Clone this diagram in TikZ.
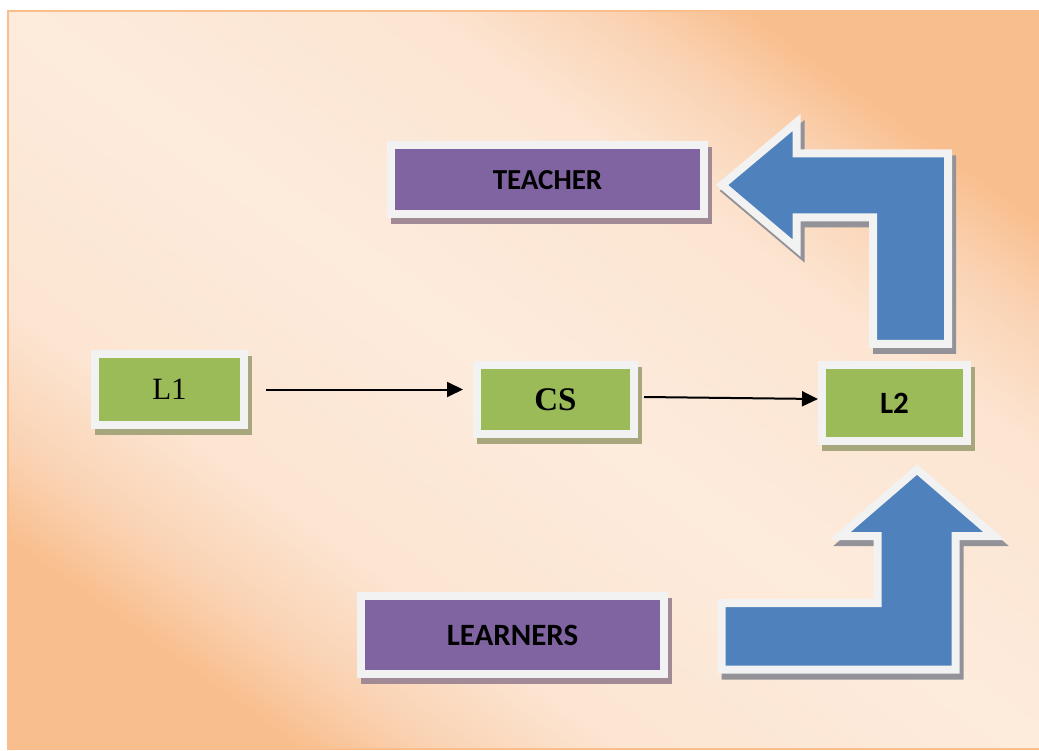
\documentclass[tikz,border=0pt]{standalone}
\usepackage{fontspec}
\setmainfont{Liberation Serif}
\newfontfamily\calibri{Carlito}
\usetikzlibrary{arrows.meta,shadows}
\definecolor{peachpale}{HTML}{FDEBDC}
\definecolor{peachlight}{HTML}{FCE5D2}
\definecolor{peachmid}{HTML}{FAD2B2}
\definecolor{peachdeep}{HTML}{F9BE8D}
\definecolor{framecol}{HTML}{FABD8C}
\definecolor{rim}{HTML}{F2F2F2}
\definecolor{ogreen}{HTML}{9BBB59}
\definecolor{opurple}{HTML}{8064A2}
\definecolor{oblue}{HTML}{4F81BD}
\definecolor{gshadow}{HTML}{A8A67D}
\definecolor{pshadow}{HTML}{A18A95}
\definecolor{bshadow}{HTML}{929298}
\pgfdeclareverticalshading{peach}{100bp}{color(0bp)=(peachdeep); color(25bp)=(peachdeep); color(29.5bp)=(peachmid); color(36bp)=(peachlight); color(50bp)=(peachpale); color(64bp)=(peachlight); color(70.5bp)=(peachmid); color(75bp)=(peachdeep); color(100bp)=(peachdeep)}
\begin{document}
\begin{tikzpicture}[x=1pt,y=-1pt,line cap=butt,
	greenbox/.style={draw=rim,line width=8pt,fill=ogreen,inner sep=0pt,
		drop shadow={shadow xshift=4pt,shadow yshift=-6pt,opacity=1,fill=gshadow,draw=gshadow,line width=8pt}},
	purplebox/.style={draw=rim,line width=8pt,fill=opurple,inner sep=0pt,
		font=\calibri\bfseries\fontsize{29}{31}\selectfont,
		drop shadow={shadow xshift=4pt,shadow yshift=-6pt,opacity=1,fill=pshadow,draw=pshadow,line width=8pt}},
	bentarrow/.style={draw=rim,line width=8pt,line join=miter,fill=oblue,
		drop shadow={shadow xshift=4pt,shadow yshift=-6pt,opacity=1,fill=bshadow,draw=bshadow,line width=8pt,line join=miter}},
	link/.style={line width=2pt,-{Triangle[length=16pt,width=15pt]}}]
	\useasboundingbox (0,0) rectangle (1039,751);
	\shade[shading=peach,shading angle=-35.6] (8,11) rectangle (1040,749);
	\draw[framecol,line width=2pt] (8,11) rectangle (1040,749);
	
	\path[bentarrow] (722,185)--(796.5,122.5)--(796.5,153.5)--(948,153.5)--(948,344)--(873,344)--(873,217.5)--(796.5,217.5)--(796.5,248)--cycle;
	\path[bentarrow] (917,469.5)--(994,536)--(955.5,536)--(955.5,669.5)--(721.5,669.5)--(721.5,603)--(877.5,603)--(877.5,536)--(840,536)--cycle;
	
	\node[purplebox,minimum width=313pt,minimum height=69.5pt] (teacher) at (547.5,179.75) {TEACHER};
	\node[purplebox,minimum width=303pt,minimum height=78pt,font=\calibri\bfseries\fontsize{31}{33}\selectfont] (learners) at (512.5,635) {LEARNERS};
	\node[greenbox,minimum width=149pt,minimum height=71pt,font=\fontsize{31}{33}\selectfont] (l1) at (169.5,389.5) {L1};
	\node[greenbox,minimum width=157pt,minimum height=69pt,font=\bfseries\fontsize{33}{35}\selectfont] (cs) at (555.5,399.5) {CS};
	\node[greenbox,minimum width=145pt,minimum height=76pt,font=\calibri\bfseries\fontsize{31}{33}\selectfont] (l2) at (894.5,403) {L2};
	
	\draw[link] ([xshift=18pt]l1.east) -- ([xshift=-10pt]cs.west |- l1.east);
	\draw[link] ([xshift=6pt,yshift=2.5pt]cs.east) -- ([yshift=4pt]l2.west);
	%	\path (current bounding box.south) node[below]{};
\end{tikzpicture}
\end{document}
